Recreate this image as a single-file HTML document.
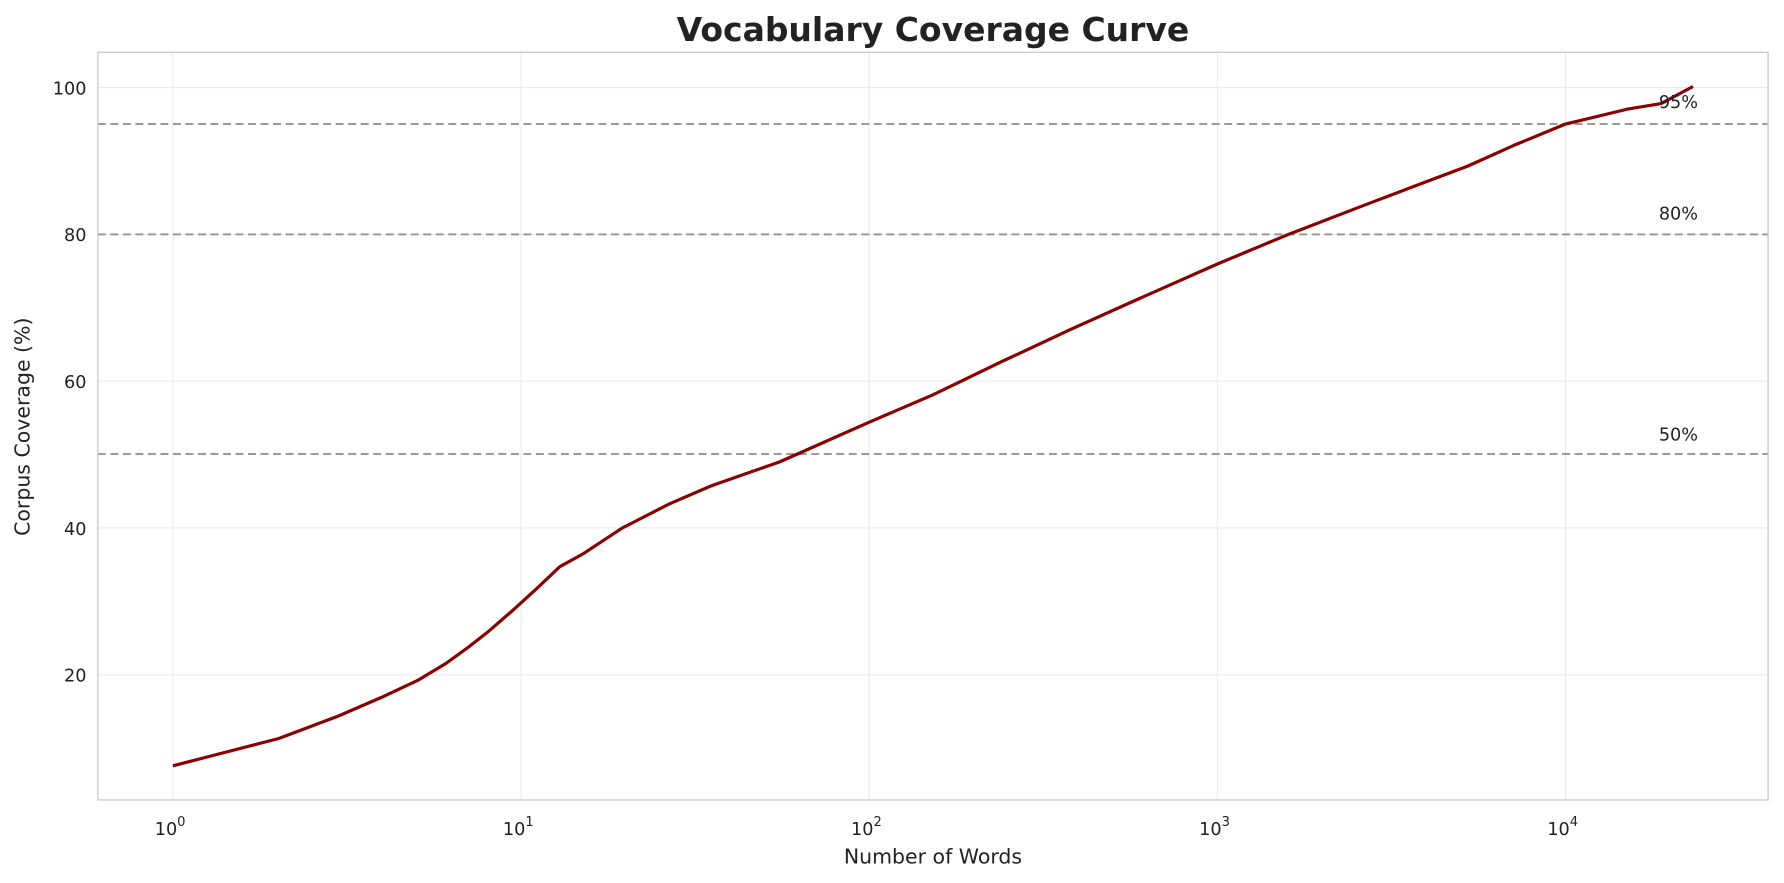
<!DOCTYPE html>
<html><head><meta charset="utf-8"><style>html,body{margin:0;padding:0;background:#fff}svg{display:block}</style></head>
<body>
<svg width="1784" height="883" viewBox="0 0 1568 776" preserveAspectRatio="none" xmlns="http://www.w3.org/2000/svg" font-family="'DejaVu Sans','Liberation Sans',sans-serif">
<rect width="1568" height="776" fill="#fff"/>
<g stroke="#ebebeb" stroke-width="1">
<line x1="152" y1="46" x2="152" y2="703"/><line x1="458" y1="46" x2="458" y2="703"/><line x1="764" y1="46" x2="764" y2="703"/><line x1="1070" y1="46" x2="1070" y2="703"/><line x1="1376" y1="46" x2="1376" y2="703"/>
<line x1="86" y1="77" x2="1554" y2="77"/><line x1="86" y1="206" x2="1554" y2="206"/><line x1="86" y1="335" x2="1554" y2="335"/><line x1="86" y1="464" x2="1554" y2="464"/><line x1="86" y1="593" x2="1554" y2="593"/>
</g>
<g stroke="#999" stroke-width="1.8" stroke-dasharray="7,4">
<line x1="86" y1="109" x2="1554" y2="109"/><line x1="86" y1="206" x2="1554" y2="206"/><line x1="86" y1="399" x2="1554" y2="399"/>
</g>
<rect x="86" y="46" width="1468" height="657" fill="none" stroke="#ccc" stroke-width="1.2"/>
<polyline fill="none" stroke="#8b0000" stroke-width="2.8" stroke-linejoin="round" points="152,673 245,649 298,629 335,613 367,598 392,583 410,570 428,556 450,537 472,517 492,498 512,487 547,464 588,443 625,427 685,406 764,371 820,347 880,318 940,290 1000,263 1070,232 1130,207 1200,180 1250,161 1290,146 1330,128 1376,109 1430,96 1460,91 1488,76"/>
<g font-size="15.5" fill="#222">
<text x="1458" y="95">95%</text><text x="1458" y="193">80%</text><text x="1458" y="387">50%</text>
</g>
<g font-size="15.5" fill="#222" text-anchor="end">
<text x="76" y="83">100</text><text x="76" y="212">80</text><text x="76" y="341">60</text><text x="76" y="470">40</text><text x="76" y="599">20</text>
</g>
<g font-size="15.5" fill="#222">
<text x="136" y="734">10<tspan font-size="11.5" dy="-8">0</tspan></text>
<text x="442" y="734">10<tspan font-size="11.5" dy="-8">1</tspan></text>
<text x="748" y="734">10<tspan font-size="11.5" dy="-8">2</tspan></text>
<text x="1054" y="734">10<tspan font-size="11.5" dy="-8">3</tspan></text>
<text x="1360" y="734">10<tspan font-size="11.5" dy="-8">4</tspan></text>
</g>
<text x="820" y="759" font-size="18" fill="#222" text-anchor="middle">Number of Words</text>
<text transform="translate(26,375) rotate(-90)" font-size="18" fill="#222" text-anchor="middle">Corpus Coverage (%)</text>
<text x="820" y="36" font-size="29" font-weight="bold" fill="#222" text-anchor="middle">Vocabulary Coverage Curve</text>
</svg>
</body></html>
